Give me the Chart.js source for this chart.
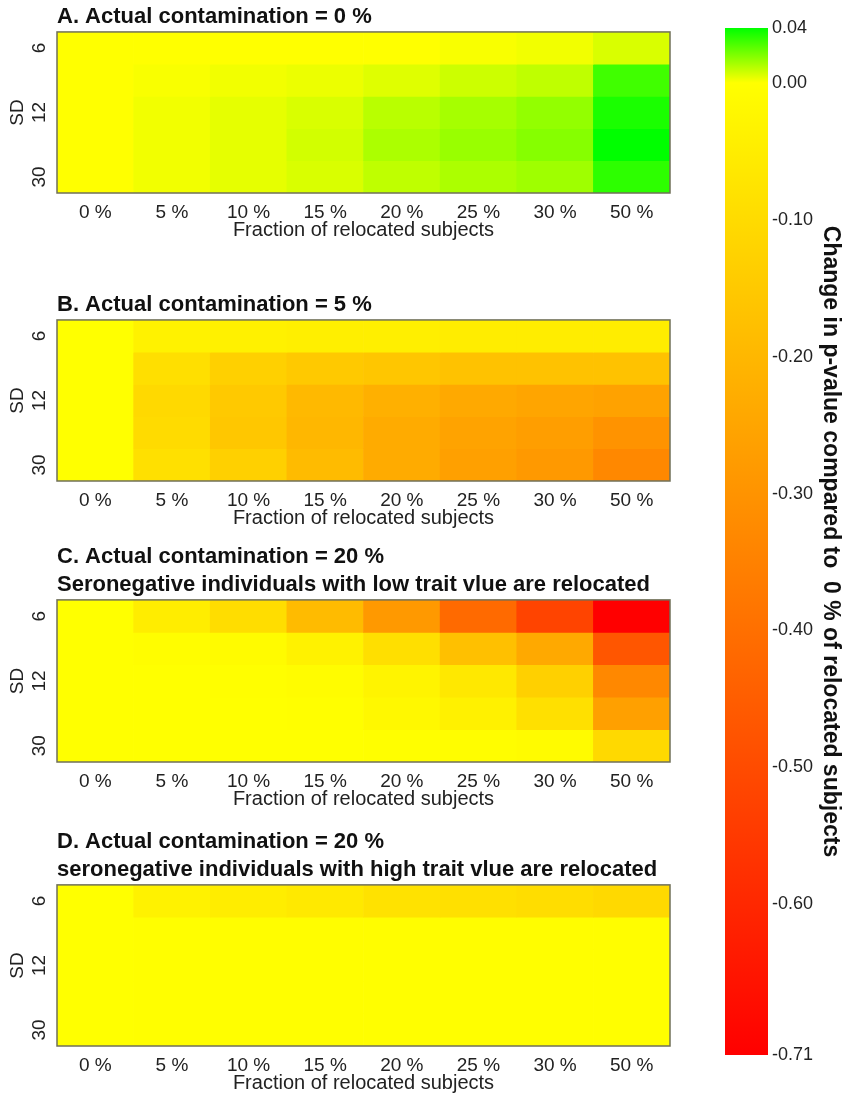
<!DOCTYPE html>
<html>
<head>
<meta charset="utf-8">
<script src="https://cdn.jsdelivr.net/npm/chart.js@4.4.1/dist/chart.umd.min.js"></script>
<style>
  body { margin: 0; background: #fff; width: 848px; height: 1095px; overflow: hidden; position: relative; }
  canvas { position: absolute; }
</style>
</head>
<body>
<canvas id="panel-a" width="690" height="242" style="left:0;top:0"></canvas>
<canvas id="panel-b" width="690" height="242" style="left:0;top:288px"></canvas>
<canvas id="panel-c" width="690" height="271" style="left:0;top:540px"></canvas>
<canvas id="panel-d" width="690" height="270" style="left:0;top:825px"></canvas>
<canvas id="colorbar" width="148" height="1095" style="left:700px;top:0"></canvas>
<script>
const FONT = "'Liberation Sans', Arial, sans-serif";

const fractionLabels = ["0 %", "5 %", "10 %", "15 %", "20 %", "25 %", "30 %", "50 %"];
const sdLabels = ["6", "", "12", "", "30"];

// rows top to bottom = SD 6 ... 30, columns = fraction of relocated subjects
const contamination0 = [
    [0, 0, 0, 0, 0, 0.001, 0.002, 0.006],
    [0, 0.001, 0.002, 0.003, 0.005, 0.008, 0.010, 0.030],
    [0, 0.002, 0.004, 0.006, 0.011, 0.014, 0.017, 0.036],
    [0, 0.002, 0.004, 0.007, 0.013, 0.016, 0.019, 0.040],
    [0, 0.002, 0.004, 0.006, 0.010, 0.013, 0.015, 0.033]
];
const contamination5 = [
    [0, -0.035, -0.04, -0.045, -0.045, -0.05, -0.05, -0.05],
    [0, -0.09, -0.13, -0.15, -0.16, -0.17, -0.17, -0.17],
    [0, -0.105, -0.15, -0.195, -0.22, -0.24, -0.25, -0.26],
    [0, -0.10, -0.155, -0.20, -0.235, -0.255, -0.27, -0.30],
    [0, -0.085, -0.13, -0.19, -0.235, -0.265, -0.285, -0.33]
];
const contamination20Low = [
    [0, -0.05, -0.095, -0.19, -0.285, -0.415, -0.52, -0.71],
    [0, -0.005, -0.012, -0.035, -0.09, -0.175, -0.24, -0.47],
    [0, 0, -0.003, -0.008, -0.03, -0.065, -0.13, -0.33],
    [0, 0, 0, -0.003, -0.02, -0.04, -0.085, -0.265],
    [0, 0, 0, 0, -0.003, -0.005, -0.01, -0.105]
];
const contamination20High = [
    [0, -0.035, -0.05, -0.06, -0.08, -0.085, -0.095, -0.105],
    [0, -0.004, -0.005, -0.005, -0.006, -0.006, -0.006, -0.006],
    [0, -0.002, -0.003, -0.003, -0.003, -0.003, -0.003, -0.003],
    [0, -0.002, -0.002, -0.002, -0.003, -0.003, -0.003, -0.003],
    [0, -0.002, -0.002, -0.002, -0.002, -0.002, -0.002, -0.002]
];

const colorbarTicks = [0.04, 0.00, -0.10, -0.20, -0.30, -0.40, -0.50, -0.60, -0.71];
const colorMin = -0.71;
const colorMax = 0.04;

function colorFor(v) {
    if (v >= 0) {
        const t = Math.min(v / colorMax, 1);
        return `rgb(${Math.round(255 * (1 - t))}, 255, 0)`;
    }
    const t = Math.min(v / colorMin, 1);
    return `rgb(255, ${Math.round(255 * (1 - t))}, 0)`;
}

// outline of the plot + rotated SD tick labels
const panelFrame = {
    id: "panelFrame",
    afterDraw(chart) {
        const { ctx, chartArea: a } = chart;
        const y = chart.scales.y;
        ctx.save();
        ctx.strokeStyle = "#707058";
        ctx.lineWidth = 1.5;
        ctx.strokeRect(a.left, a.top, a.right - a.left, a.bottom - a.top);
        ctx.fillStyle = "#222";
        ctx.font = "19px " + FONT;
        ctx.textAlign = "center";
        ctx.textBaseline = "middle";
        sdLabels.forEach((label, i) => {
            if (!label) return;
            ctx.save();
            ctx.translate(a.left - 17, y.getPixelForValue(i + 0.5));
            ctx.rotate(-Math.PI / 2);
            ctx.fillText(label, 0, 0);
            ctx.restore();
        });
        ctx.restore();
    }
};

function drawPanel(id, title, rows) {
    const ctx = document.getElementById(id).getContext("2d");
    return new Chart(ctx, {
        type: "bar",
        data: {
            labels: fractionLabels,
            datasets: rows.map((row, i) => ({
                label: sdLabels[i],
                data: row.map(() => 1),
                backgroundColor: row.map(colorFor),
                borderWidth: 0,
                barPercentage: 1,
                categoryPercentage: 1
            }))
        },
        options: {
            responsive: false,
            animation: false,
            devicePixelRatio: 1,
            layout: { padding: { right: 20 } },
            plugins: {
                legend: { display: false },
                tooltip: { enabled: false },
                title: {
                    display: true,
                    text: title,
                    align: "start",
                    fullSize: false,
                    color: "#111",
                    font: { family: FONT, size: 22, weight: "bold", lineHeight: 1.27 },
                    padding: { top: 3, bottom: 1 }
                }
            },
            scales: {
                x: {
                    stacked: true,
                    grid: { display: false, drawTicks: false },
                    border: { display: false },
                    ticks: { color: "#222", font: { family: FONT, size: 19 }, padding: 8, maxRotation: 0, autoSkip: false },
                    title: {
                        display: true,
                        text: "Fraction of relocated subjects",
                        color: "#222",
                        font: { family: FONT, size: 20 },
                        padding: 0
                    },
                    afterFit: s => { s.height = 49; }
                },
                y: {
                    stacked: true,
                    reverse: true,
                    min: 0,
                    max: 5,
                    grid: { display: false, drawTicks: false },
                    border: { display: false },
                    ticks: { display: false },
                    title: {
                        display: true,
                        text: "SD",
                        color: "#222",
                        font: { family: FONT, size: 19 },
                        padding: { top: 6, bottom: 0 }
                    },
                    afterFit: s => { s.width = 57; }
                }
            }
        },
        plugins: [panelFrame]
    });
}

drawPanel("panel-a", "A. Actual contamination = 0 %", contamination0);
drawPanel("panel-b", "B. Actual contamination = 5 %", contamination5);
drawPanel("panel-c", ["C. Actual contamination = 20 %", "Seronegative individuals with low trait vlue are relocated"], contamination20Low);
drawPanel("panel-d", ["D. Actual contamination = 20 %", "seronegative individuals with high trait vlue are relocated"], contamination20High);

function colorbarGradient(context) {
    const chart = context.chart;
    if (!chart.chartArea) return null;
    const y = chart.scales.y;
    const top = y.getPixelForValue(colorMax);
    const bottom = y.getPixelForValue(colorMin);
    const g = chart.ctx.createLinearGradient(0, top, 0, bottom);
    [colorMax, 0, colorMin].forEach(v => {
        g.addColorStop((y.getPixelForValue(v) - top) / (bottom - top), colorFor(v));
    });
    return g;
}

new Chart(document.getElementById("colorbar"), {
    type: "bar",
    data: {
        labels: [""],
        datasets: [{
            data: [[colorMin, colorMax]],
            backgroundColor: colorbarGradient,
            borderWidth: 0,
            barPercentage: 1,
            categoryPercentage: 1
        }]
    },
    options: {
        responsive: false,
        animation: false,
        devicePixelRatio: 1,
        layout: { padding: { top: 28, bottom: 40, left: 25 } },
        plugins: { legend: { display: false }, tooltip: { enabled: false } },
        scales: {
            x: { display: false },
            y: {
                position: "right",
                min: colorMin,
                max: colorMax,
                grid: { display: false, drawTicks: false },
                border: { display: false },
                afterBuildTicks: s => { s.ticks = colorbarTicks.map(v => ({ value: v })); },
                ticks: {
                    autoSkip: false,
                    padding: 4,
                    crossAlign: "near",
                    color: "#222",
                    font: { family: FONT, size: 18 },
                    callback: v => v.toFixed(2)
                },
                title: {
                    display: true,
                    text: "Change in p-value compared to  0 % of relocated subjects",
                    color: "#111",
                    font: { family: FONT, size: 23, weight: "bold" },
                    padding: { top: 4, bottom: 4 }
                },
                afterFit: s => { s.width = 80; }
            }
        }
    }
});
</script>
</body>
</html>
